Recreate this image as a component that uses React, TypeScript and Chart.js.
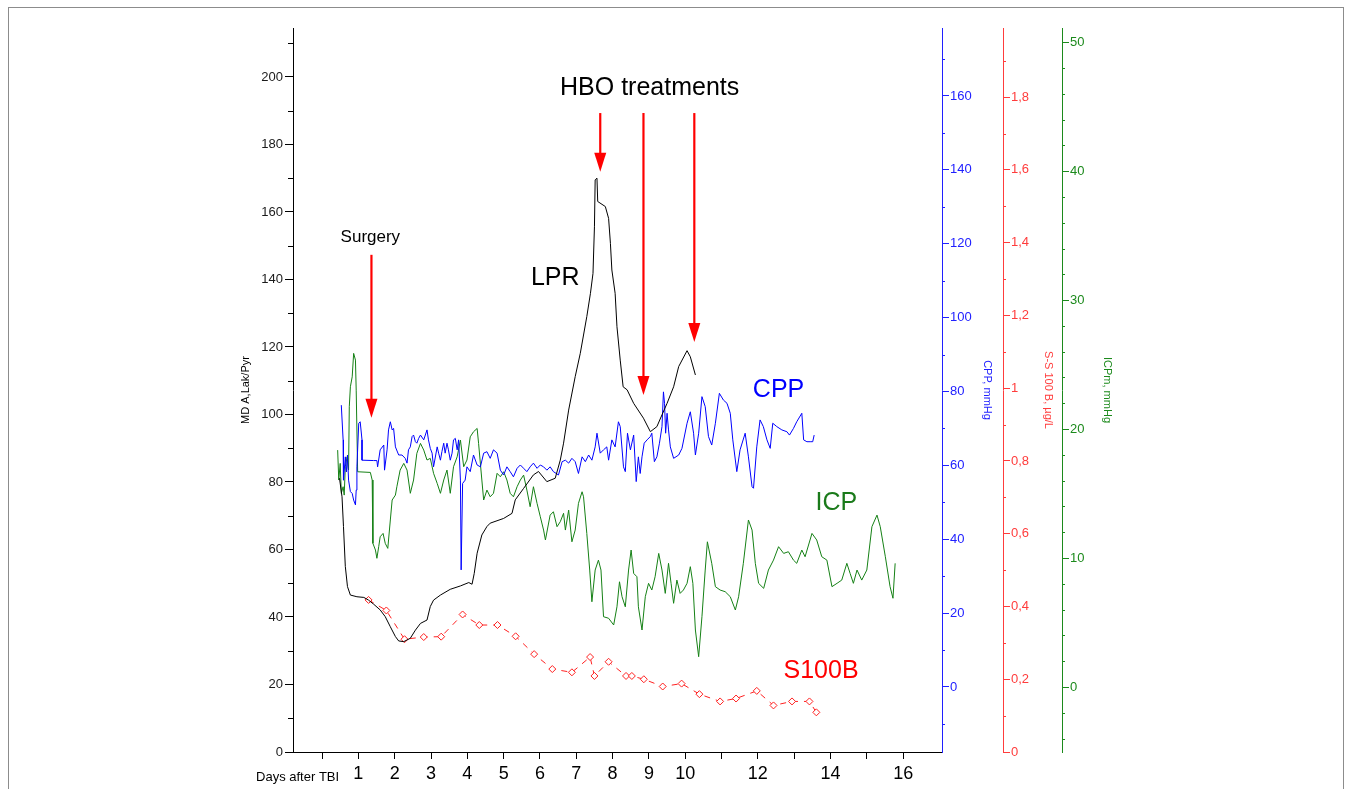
import React, { useEffect, useRef } from 'react';
import { Chart, registerables } from 'chart.js';

Chart.register(...registerables);

const FONT = '"Liberation Sans", Arial, Helvetica, sans-serif';

// ---------- data (days after TBI / values) ----------
const lprDays = [
  0.48, 0.55, 0.59, 0.64, 0.70, 0.78, 0.96, 1.15, 1.28, 1.42,
  1.60, 1.74, 1.88, 2.02, 2.11, 2.25, 2.43, 2.57, 2.71, 2.89,
  2.98, 3.07, 3.26, 3.53, 3.81, 4.04, 4.13, 4.19, 4.27, 4.40,
  4.54, 4.63, 5.00, 5.23, 5.32, 5.55, 5.82, 5.96, 6.19, 6.42,
  6.56, 6.65, 6.79, 6.97, 7.11, 7.29, 7.39, 7.46, 7.50, 7.52,
  7.57, 7.59, 7.80, 7.89, 7.94, 7.98, 8.07, 8.12, 8.21, 8.29,
  8.40, 8.58, 8.85, 9.04, 9.22, 9.36, 9.50, 9.68, 9.82, 10.05,
  10.14, 10.28,
];
const lprValues = [
  81.1, 75.6, 66.8, 55.0, 49.0, 46.5, 46.0, 45.8, 45.0, 43.8,
  42.1, 40.1, 37.1, 34.2, 32.9, 32.7, 33.7, 36.1, 38.1, 39.1,
  43.1, 45.0, 46.5, 48.2, 49.2, 50.2, 49.7, 52.9, 58.9, 64.3,
  66.8, 67.8, 69.2, 70.7, 74.7, 78.1, 82.1, 83.1, 80.1, 81.1,
  86.5, 91.5, 101.3, 111.2, 118.1, 129.0, 135.9, 141.8, 155.6, 169.5,
  170.0, 163.1, 161.6, 158.1, 150.7, 142.8, 135.9, 126.0, 116.1, 108.2,
  107.3, 103.3, 98.9, 94.9, 96.4, 99.9, 103.3, 108.2, 114.2, 118.9,
  117.1, 111.7,
];

const cppDays = [
  0.53, 0.58, 0.59, 0.64, 0.67, 0.70, 0.73, 0.78, 0.83, 0.87,
  0.92, 0.94, 0.96, 1.01, 1.05, 1.10, 1.10, 1.42, 1.51, 1.53,
  1.60, 1.70, 1.72, 1.79, 1.83, 1.88, 1.93, 1.97, 2.02, 2.11,
  2.20, 2.29, 2.34, 2.38, 2.43, 2.48, 2.52, 2.57, 2.61, 2.66,
  2.71, 2.80, 2.89, 2.93, 2.98, 3.03, 3.07, 3.17, 3.21, 3.26,
  3.30, 3.35, 3.39, 3.44, 3.48, 3.53, 3.58, 3.62, 3.67, 3.72,
  3.76, 3.81, 3.83, 3.87, 3.94, 3.99, 4.08, 4.17, 4.27, 4.36,
  4.45, 4.54, 4.63, 4.72, 4.82, 4.91, 5.00, 5.09, 5.18, 5.27,
  5.37, 5.46, 5.55, 5.64, 5.73, 5.82, 5.92, 6.01, 6.10, 6.19,
  6.28, 6.37, 6.51, 6.61, 6.70, 6.79, 6.88, 6.97, 7.06, 7.16,
  7.25, 7.34, 7.43, 7.52, 7.57, 7.66, 7.75, 7.84, 7.89, 7.98,
  8.07, 8.16, 8.21, 8.30, 8.35, 8.41, 8.49, 8.58, 8.65, 8.71,
  8.76, 8.81, 8.87, 8.95, 9.04, 9.08, 9.15, 9.22, 9.29, 9.36,
  9.40, 9.43, 9.46, 9.50, 9.54, 9.59, 9.68, 9.82, 9.91, 10.05,
  10.14, 10.23, 10.28, 10.37, 10.46, 10.55, 10.64, 10.73, 10.83, 10.94,
  11.05, 11.15, 11.24, 11.31, 11.42, 11.51, 11.65, 11.74, 11.84, 11.88,
  11.97, 12.06, 12.15, 12.25, 12.34, 12.41, 12.52, 12.66, 12.80, 12.87,
  12.98, 13.07, 13.21, 13.26, 13.35, 13.44, 13.51, 13.55,
];
const cppValues = [
  76.3, 66.9, 56.0, 62.3, 58.2, 62.8, 56.0, 52.9, 52.4, 50.6,
  49.3, 53.3, 59.6, 71.4, 71.8, 66.9, 61.4, 61.3, 61.3, 59.6,
  64.2, 65.5, 58.7, 64.2, 69.6, 71.8, 69.6, 70.0, 65.0, 62.8,
  62.8, 61.9, 60.6, 64.2, 65.0, 67.8, 68.2, 66.4, 66.0, 67.3,
  68.2, 66.9, 69.6, 66.9, 64.6, 63.3, 59.6, 65.0, 63.3, 61.4,
  63.7, 66.0, 63.3, 66.0, 64.2, 61.4, 63.3, 66.9, 67.3, 64.2,
  66.9, 56.0, 31.7, 55.1, 56.0, 59.6, 58.3, 62.8, 60.1, 59.6,
  63.3, 63.7, 61.9, 64.2, 63.3, 58.7, 57.4, 59.6, 58.3, 56.9,
  59.2, 60.1, 59.2, 58.3, 59.6, 60.6, 59.2, 60.1, 59.6, 58.7,
  59.6, 58.3, 57.4, 61.0, 61.4, 60.6, 61.9, 61.0, 57.8, 62.3,
  61.0, 62.8, 61.4, 65.0, 68.7, 63.3, 64.2, 65.0, 61.4, 66.9,
  65.0, 71.8, 70.5, 59.6, 58.3, 68.7, 64.2, 68.2, 55.6, 62.3,
  57.8, 62.3, 66.0, 66.9, 67.8, 68.7, 61.0, 62.3, 66.0, 70.5,
  79.9, 76.8, 68.7, 74.1, 69.6, 65.0, 61.9, 62.8, 64.6, 71.4,
  74.5, 68.7, 62.8, 68.7, 78.6, 75.9, 67.8, 65.5, 71.4, 79.5,
  77.7, 76.8, 74.1, 66.9, 58.3, 64.2, 68.7, 62.3, 54.2, 53.8,
  65.0, 72.3, 70.5, 66.9, 64.6, 71.4, 70.5, 69.6, 69.1, 68.2,
  70.0, 71.8, 74.1, 66.9, 66.4, 66.4, 66.4, 68.2,
];

const icpDays = [
  0.43, 0.46, 0.50, 0.53, 0.58, 0.61, 0.64, 0.69, 0.73, 0.75,
  0.78, 0.83, 0.87, 0.92, 0.94, 0.98, 1.33, 1.38, 1.40, 1.47,
  1.51, 1.56, 1.60, 1.68, 1.74, 1.81, 1.88, 1.93, 2.02, 2.06,
  2.15, 2.25, 2.34, 2.43, 2.52, 2.61, 2.71, 2.80, 2.89, 2.98,
  3.07, 3.17, 3.26, 3.35, 3.44, 3.53, 3.62, 3.72, 3.81, 3.90,
  3.99, 4.08, 4.17, 4.27, 4.31, 4.40, 4.45, 4.54, 4.63, 4.72,
  4.82, 4.91, 5.00, 5.09, 5.18, 5.27, 5.37, 5.46, 5.55, 5.64,
  5.73, 5.82, 5.92, 6.01, 6.10, 6.15, 6.28, 6.37, 6.47, 6.56,
  6.65, 6.70, 6.79, 6.88, 6.97, 7.06, 7.16, 7.20, 7.29, 7.37,
  7.43, 7.52, 7.61, 7.68, 7.75, 7.89, 8.03, 8.12, 8.19, 8.26,
  8.35, 8.44, 8.51, 8.58, 8.67, 8.71, 8.81, 8.90, 8.99, 9.08,
  9.17, 9.27, 9.36, 9.45, 9.54, 9.61, 9.68, 9.77, 9.86, 9.95,
  10.05, 10.14, 10.21, 10.28, 10.37, 10.46, 10.55, 10.61, 10.73, 10.83,
  10.96, 11.10, 11.24, 11.38, 11.47, 11.60, 11.74, 11.84, 11.93, 12.02,
  12.16, 12.29, 12.43, 12.57, 12.71, 12.84, 12.98, 13.07, 13.21, 13.30,
  13.49, 13.62, 13.76, 13.90, 14.04, 14.18, 14.31, 14.45, 14.54, 14.63,
  14.73, 14.86, 15.00, 15.14, 15.28, 15.37, 15.51, 15.64, 15.72, 15.78,
];
const icpValues = [
  18.37, 16.05, 17.34, 15.02, 15.53, 14.88, 17.08, 17.85, 16.82, 21.73,
  23.28, 24.05, 25.87, 25.35, 23.02, 16.69, 16.64, 16.05, 11.14, 10.62,
  9.98, 10.88, 11.65, 11.91, 11.14, 10.75, 12.95, 14.50, 14.88, 15.53,
  16.82, 17.34, 16.82, 15.02, 16.05, 18.12, 18.89, 18.37, 17.60, 17.73,
  16.57, 15.79, 15.02, 16.05, 16.82, 15.02, 17.08, 17.85, 19.15, 17.08,
  17.60, 19.40, 19.79, 20.05, 18.89, 16.05, 14.50, 15.27, 14.75, 15.02,
  16.57, 16.30, 16.69, 16.05, 15.02, 14.75, 15.53, 16.05, 16.43, 15.27,
  13.98, 15.53, 14.24, 13.20, 12.17, 11.40, 13.33, 13.59, 12.43, 12.82,
  13.47, 12.17, 13.72, 11.26, 12.17, 14.24, 15.14, 14.75, 11.91, 9.07,
  6.61, 9.07, 9.84, 9.07, 5.45, 5.33, 4.81, 6.22, 8.16, 7.00,
  6.22, 9.07, 10.62, 8.81, 8.55, 6.22, 4.42, 7.00, 8.04, 7.52,
  8.55, 10.36, 9.07, 7.26, 9.59, 8.04, 6.49, 8.29, 7.26, 7.52,
  8.04, 9.33, 8.04, 4.42, 2.35, 5.45, 9.07, 11.26, 9.59, 7.78,
  7.52, 7.39, 7.00, 5.97, 7.00, 9.59, 12.95, 12.17, 9.59, 8.04,
  7.65, 9.07, 9.84, 10.88, 10.36, 10.49, 9.84, 9.59, 10.62, 10.10,
  11.91, 11.40, 10.10, 9.84, 7.78, 8.04, 8.29, 9.59, 8.81, 8.04,
  9.07, 8.29, 9.07, 12.43, 13.33, 12.43, 10.10, 7.78, 6.88, 9.59,
];

const s100bDays = [
  1.28, 1.77, 2.27, 2.80, 3.28, 3.87, 4.33, 4.83, 5.33, 5.84,
  6.34, 6.88, 7.38, 7.50, 7.89, 8.37, 8.53, 8.86, 9.38, 9.90,
  10.39, 10.96, 11.40, 11.97, 12.43, 12.94, 13.42, 13.61,
];
const s100bValues = [
  0.418, 0.389, 0.310, 0.316, 0.317, 0.378, 0.349, 0.349, 0.318, 0.269,
  0.228, 0.219, 0.261, 0.209, 0.248, 0.209, 0.209, 0.200, 0.180, 0.188,
  0.159, 0.139, 0.147, 0.168, 0.128, 0.139, 0.139, 0.109,
];

// x tick labels shown on the day axis
const xTickLabels = [1, 2, 3, 4, 5, 6, 7, 8, 9, 10, 12, 14, 16];

// annotations (x in days, y on the MD A,Lak/Pyr axis)
const arrowDays = [1.36, 7.66, 8.85, 10.25];
const arrowTops = [147.3, 189.3, 189.3, 189.3];
const arrowTips = [99.0, 171.9, 105.8, 121.5];

const noteTexts = ['Surgery', 'HBO treatments', 'LPR', 'CPP', 'ICP', 'S100B'];
const noteDays = [1.33, 9.02, 6.42, 12.57, 14.16, 13.74];
const noteValues = [152.6, 196.7, 140.4, 107.3, 73.8, 24.0];
const noteColors = ['#000000', '#000000', '#000000', '#0000ff', '#1a7a1a', '#ff0000'];
const noteSizes = [17, 25, 25, 25, 25, 25];

const BLUE = '#2020ff';
const RED = '#ff3c3c';
const GREEN = '#1c8a1c';

const pts = (xs: number[], ys: number[]) => xs.map((x, i) => ({ x, y: ys[i] }));
const isMul = (v: number, m: number) => Math.abs(v / m - Math.round(v / m)) < 1e-6;

const minorSpecs = [
  { id: 'y', major: 20, color: '#000000', len: 5, side: 'left' },
  { id: 'yCPP', major: 20, color: BLUE, len: 3, side: 'right' },
  { id: 'yS', major: 0.2, color: RED, len: 3, side: 'right' },
  { id: 'yICP', major: 10, color: GREEN, len: 3, side: 'right' },
];

const minorTickPlugin = {
  id: 'minorTicks',
  afterDraw(chart: any) {
    const ctx = chart.ctx;
    for (const spec of minorSpecs) {
      const scale = chart.scales[spec.id];
      if (!scale) continue;
      ctx.save();
      ctx.strokeStyle = spec.color;
      ctx.lineWidth = 1;
      for (const t of scale.ticks) {
        if (isMul(t.value, spec.major)) continue;
        const y = Math.round(scale.getPixelForValue(t.value)) + 0.5;
        const x0 = spec.side === 'left' ? scale.right : scale.left;
        const x1 = spec.side === 'left' ? x0 - spec.len : x0 + spec.len;
        ctx.beginPath();
        ctx.moveTo(x0, y);
        ctx.lineTo(x1, y);
        ctx.stroke();
      }
      ctx.restore();
    }
  },
};

const annotationPlugin = {
  id: 'notes',
  afterDatasetsDraw(chart: any) {
    const ctx = chart.ctx;
    const xs = chart.scales.x;
    const ys = chart.scales.y;
    ctx.save();
    // arrows
    ctx.strokeStyle = '#ff0000';
    ctx.fillStyle = '#ff0000';
    ctx.lineWidth = 2.2;
    arrowDays.forEach((d, i) => {
      const x = xs.getPixelForValue(d);
      const yTop = ys.getPixelForValue(arrowTops[i]);
      const yTip = ys.getPixelForValue(arrowTips[i]);
      const head = 19;
      const hw = 6;
      ctx.beginPath();
      ctx.moveTo(x, yTop);
      ctx.lineTo(x, yTip - head + 2);
      ctx.stroke();
      ctx.beginPath();
      ctx.moveTo(x - hw, yTip - head);
      ctx.lineTo(x + hw, yTip - head);
      ctx.lineTo(x, yTip);
      ctx.closePath();
      ctx.fill();
    });
    // text labels
    ctx.textAlign = 'center';
    ctx.textBaseline = 'middle';
    noteTexts.forEach((t, i) => {
      ctx.fillStyle = noteColors[i];
      ctx.font = `${noteSizes[i]}px ${FONT}`;
      ctx.fillText(t, xs.getPixelForValue(noteDays[i]), ys.getPixelForValue(noteValues[i]));
    });
    ctx.restore();
  },
  afterDraw(chart: any) {
    const ctx = chart.ctx;
    const xs = chart.scales.x;
    ctx.save();
    ctx.fillStyle = '#000000';
    ctx.font = `13px ${FONT}`;
    ctx.textAlign = 'right';
    ctx.textBaseline = 'middle';
    ctx.fillText('Days after TBI', xs.getPixelForValue(0.47), xs.top + 25);
    ctx.restore();
  },
};

function rightAxis(opts: {
  min: number; max: number; step: number; major: number; color: string; weight: number;
  width: number; title: string; titlePad: number; fmt: (v: number) => string;
}) {
  return {
    type: 'linear',
    position: 'right',
    weight: opts.weight,
    min: opts.min,
    max: opts.max,
    afterFit: (s: any) => { s.width = opts.width; },
    border: { display: true, color: opts.color, width: 1 },
    grid: {
      drawOnChartArea: false,
      drawTicks: true,
      tickLength: 7,
      tickColor: (c: any) => (c.tick && isMul(c.tick.value, opts.major) ? opts.color : 'rgba(0,0,0,0)'),
    },
    ticks: {
      stepSize: opts.step,
      autoSkip: false,
      includeBounds: false,
      padding: 1,
      color: opts.color,
      font: { family: FONT, size: 13 },
      callback: (v: any) => (isMul(Number(v), opts.major) ? opts.fmt(Number(v)) : ''),
    },
    title: {
      display: true,
      text: opts.title,
      color: opts.color,
      font: { family: FONT, size: 11 },
      padding: { top: opts.titlePad, bottom: 0 },
    },
  };
}

export default function App() {
  const ref = useRef<HTMLCanvasElement>(null);

  useEffect(() => {
    if (!ref.current) return;
    const chart = new Chart(ref.current, {
      type: 'line',
      data: {
        datasets: [
          {
            label: 'LPR',
            data: pts(lprDays, lprValues),
            xAxisID: 'x',
            yAxisID: 'y',
            borderColor: '#000000',
            borderWidth: 1,
            pointRadius: 0,
            tension: 0,
          },
          {
            label: 'CPP',
            data: pts(cppDays, cppValues),
            xAxisID: 'x',
            yAxisID: 'yCPP',
            borderColor: '#0000ff',
            borderWidth: 1,
            pointRadius: 0,
            tension: 0,
          },
          {
            label: 'ICP',
            data: pts(icpDays, icpValues),
            xAxisID: 'x',
            yAxisID: 'yICP',
            borderColor: '#158015',
            borderWidth: 1,
            pointRadius: 0,
            tension: 0,
          },
          {
            label: 'S100B',
            data: pts(s100bDays, s100bValues),
            xAxisID: 'x',
            yAxisID: 'yS',
            borderColor: '#ff2020',
            borderWidth: 1,
            borderDash: [6, 6],
            pointRadius: 3.5,
            pointStyle: 'rectRot',
            pointBorderColor: '#ff2020',
            pointBackgroundColor: '#ffffff',
            pointBorderWidth: 1,
            tension: 0,
          },
        ] as any,
      },
      options: {
        animation: false,
        responsive: false,
        maintainAspectRatio: false,
        events: [],
        layout: { padding: { left: 236, right: 234, top: 28, bottom: 7 } },
        plugins: { legend: { display: false }, tooltip: { enabled: false } },
        scales: {
          x: {
            type: 'linear',
            position: 'bottom',
            min: -0.8,
            max: 17.07,
            afterFit: (s: any) => { s.height = 30; },
            border: { display: true, color: '#000000', width: 1 },
            grid: {
              drawOnChartArea: false,
              drawTicks: true,
              tickLength: 7,
              tickColor: (c: any) => (c.tick && c.tick.value <= 16 ? '#000000' : 'rgba(0,0,0,0)'),
            },
            ticks: {
              stepSize: 1,
              autoSkip: false,
              includeBounds: false,
              maxRotation: 0,
              padding: 4,
              color: '#000000',
              font: { family: FONT, size: 18 },
              callback: (v: any) => (xTickLabels.includes(Number(v)) ? String(v) : ''),
            },
          },
          y: {
            type: 'linear',
            position: 'left',
            min: 0,
            max: 214.5,
            afterFit: (s: any) => { s.width = 57; },
            border: { display: true, color: '#000000', width: 1 },
            grid: {
              drawOnChartArea: false,
              drawTicks: true,
              tickLength: 8,
              tickColor: (c: any) => (c.tick && isMul(c.tick.value, 20) ? '#000000' : 'rgba(0,0,0,0)'),
            },
            ticks: {
              stepSize: 10,
              autoSkip: false,
              includeBounds: false,
              padding: 2,
              color: '#1a1a1a',
              font: { family: FONT, size: 13 },
              callback: (v: any) => (isMul(Number(v), 20) ? String(v) : ''),
            },
            title: {
              display: true,
              text: 'MD A,Lak/Pyr',
              color: '#000000',
              font: { family: FONT, size: 11 },
              padding: { top: 3.4, bottom: 0 },
            },
          },
          yCPP: rightAxis({
            min: -17.6, max: 178.4, step: 10, major: 20, color: BLUE, weight: 1, width: 61,
            title: 'CPP, mmHg', titlePad: 9.4, fmt: (v) => String(Math.round(v)),
          }),
          yS: rightAxis({
            min: 0, max: 1.99, step: 0.1, major: 0.2, color: RED, weight: 2, width: 59,
            title: 'S-S 100 B, µg/L', titlePad: 7.4,
            fmt: (v) => String(Math.round(v * 10) / 10).replace('.', ','),
          }),
          yICP: rightAxis({
            min: -5.04, max: 51.1, step: 2, major: 10, color: GREEN, weight: 3, width: 56,
            title: 'ICPm, mmHg', titlePad: 4.4, fmt: (v) => String(Math.round(v)),
          }),
        } as any,
      },
      plugins: [minorTickPlugin, annotationPlugin],
    } as any);
    return () => chart.destroy();
  }, []);

  return (
    <div
      style={{
        position: 'absolute', left: 0, top: 0, width: 1352, height: 789,
        overflow: 'hidden', background: '#ffffff',
      }}
    >
      <div
        style={{
          position: 'absolute', left: 8, top: 7, width: 1334, height: 820,
          borderTop: '1px solid #8c8c8c', borderLeft: '1px solid #8c8c8c', borderRight: '1px solid #8c8c8c',
        }}
      />
      <canvas
        ref={ref}
        width={1352}
        height={789}
        style={{ position: 'absolute', left: 0, top: 0, width: 1352, height: 789 }}
      />
    </div>
  );
}
